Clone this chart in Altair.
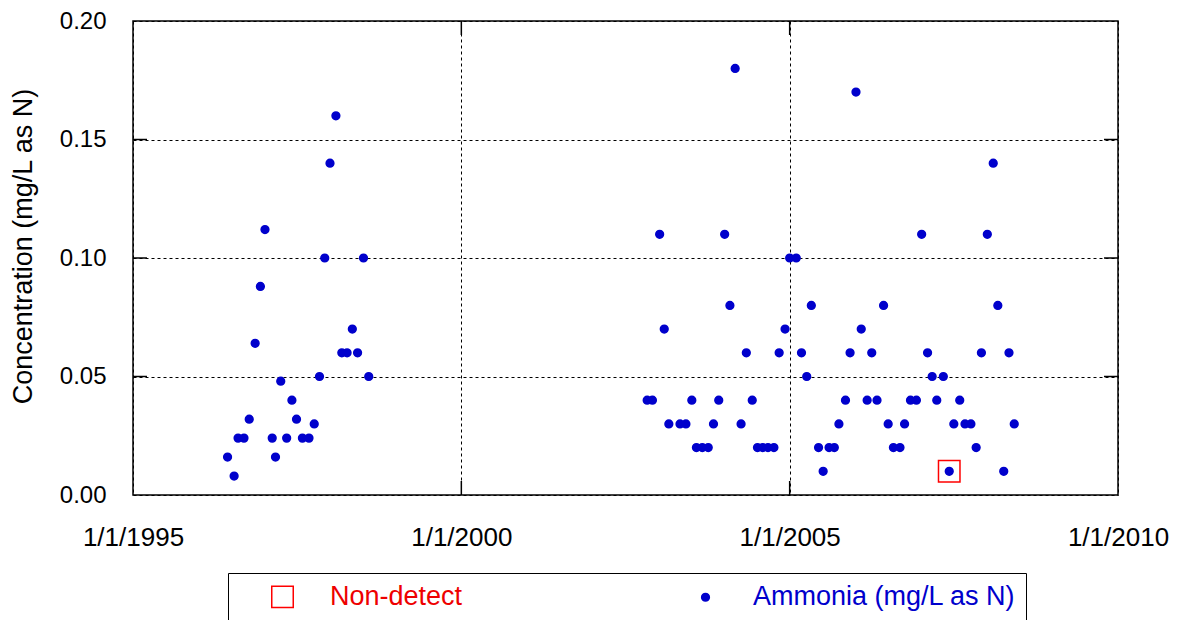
import altair as alt
import pandas as pd

# ---- data (decimal years, mg/L as N) ----
early_years = [1996.44, 1996.54, 1996.60, 1996.69, 1996.77, 1996.86, 1996.94, 1997.01,
               1997.12, 1997.17, 1997.25, 1997.34, 1997.42, 1997.49, 1997.58, 1997.68,
               1997.76, 1997.84, 1997.92, 1998.00, 1998.09, 1998.18, 1998.26, 1998.34,
               1998.42, 1998.51, 1998.59]
early_values = [0.016, 0.008, 0.024, 0.024, 0.032, 0.064, 0.088, 0.112,
                0.024, 0.016, 0.048, 0.024, 0.040, 0.032, 0.024, 0.024,
                0.030, 0.050, 0.100, 0.140, 0.160, 0.060, 0.060, 0.070,
                0.060, 0.100, 0.050]

late_years = [2002.83, 2002.91, 2003.02, 2003.09, 2003.16, 2003.33, 2003.42, 2003.51,
              2003.58, 2003.67, 2003.76, 2003.84, 2003.92, 2004.01, 2004.09, 2004.17,
              2004.26, 2004.34, 2004.43, 2004.51, 2004.59, 2004.67, 2004.76, 2004.84,
              2004.93, 2005.00, 2005.10, 2005.18, 2005.26, 2005.33, 2005.44, 2005.51,
              2005.60, 2005.68, 2005.75, 2005.85, 2005.92, 2006.01, 2006.09, 2006.18,
              2006.25, 2006.33, 2006.43, 2006.50, 2006.58, 2006.68, 2006.75, 2006.84,
              2006.93, 2007.01, 2007.10, 2007.17, 2007.24, 2007.34, 2007.43, 2007.50,
              2007.59, 2007.67, 2007.76, 2007.84, 2007.92, 2008.01, 2008.10, 2008.17,
              2008.26, 2008.34, 2008.42]
late_values = [0.04, 0.04, 0.11, 0.07, 0.03, 0.03, 0.03, 0.04,
               0.02, 0.02, 0.02, 0.03, 0.04, 0.11, 0.08, 0.18,
               0.03, 0.06, 0.04, 0.02, 0.02, 0.02, 0.02, 0.06,
               0.07, 0.10, 0.10, 0.06, 0.05, 0.08, 0.02, 0.01,
               0.02, 0.02, 0.03, 0.04, 0.06, 0.17, 0.07, 0.04,
               0.06, 0.04, 0.08, 0.03, 0.02, 0.02, 0.03, 0.04,
               0.04, 0.11, 0.06, 0.05, 0.04, 0.05, 0.01, 0.03,
               0.04, 0.03, 0.03, 0.02, 0.06, 0.11, 0.14, 0.08,
               0.01, 0.06, 0.03]

nd_years = [2007.43]
nd_values = [0.01]

x_ticks = [1995, 2000, 2005, 2010]
y_ticks = [0.0, 0.05, 0.10, 0.15, 0.20]
inner_y_ticks = [0.05, 0.10, 0.15]
inner_x_ticks = [2000, 2005]

AMM = "Ammonia (mg/L as N)"
ND = "Non-detect"
series_names = [ND, AMM]

FONT = "Liberation Sans"
BLUE = "#0000CC"
RED = "#EE0000"

df = pd.DataFrame({
    "year": early_years + late_years + nd_years,
    "conc": early_values + late_values + nd_values,
    "series": [AMM] * (len(early_years) + len(late_years)) + [ND] * len(nd_years),
})

# inward tick marks (decoration of the frame)
TX = 0.213   # ~14 px in years
TY = 0.0059  # ~14 px in mg/L
rows = []
for v in inner_y_ticks:
    rows.append({"year": x_ticks[0], "year2": x_ticks[0] + TX, "conc": v, "conc2": v})
    rows.append({"year": x_ticks[-1] - TX, "year2": x_ticks[-1], "conc": v, "conc2": v})
for v in inner_x_ticks:
    rows.append({"year": v, "year2": v, "conc": y_ticks[0], "conc2": y_ticks[0] + TY})
    rows.append({"year": v, "year2": v, "conc": y_ticks[-1] - TY, "conc2": y_ticks[-1]})
ticks_df = pd.DataFrame(rows)

xscale = alt.Scale(domain=[x_ticks[0], x_ticks[-1]], nice=False, zero=False)
yscale = alt.Scale(domain=[y_ticks[0], y_ticks[-1]], nice=False, zero=True)

xaxis = alt.Axis(values=x_ticks, labelExpr="'1/1/' + datum.value", title=None,
                 grid=True, ticks=False, tickSize=0, domain=False, labelFlush=False,
                 labelPadding=29, labelFontSize=26, labelFont=FONT, labelColor="black")
yaxis = alt.Axis(values=y_ticks, format=".2f", title="Concentration (mg/L as N)",
                 grid=True, ticks=False, tickSize=0, domain=False,
                 labelPadding=27, labelFontSize=24, labelFont=FONT, labelColor="black",
                 titleFontSize=27, titleFont=FONT, titleFontWeight="normal",
                 titleColor="black", titleX=-96, titleY=225, titleAngle=270,
                 titleAlign="center", titleBaseline="bottom")

tick_layer = alt.Chart(ticks_df).mark_rule(color="black", strokeWidth=1.5).encode(
    x=alt.X("year:Q", scale=xscale, axis=xaxis),
    x2="year2:Q",
    y=alt.Y("conc:Q", scale=yscale, axis=yaxis),
    y2="conc2:Q",
)

legend = alt.Legend(
    title=None, orient="none", legendX=95, legendY=552, direction="horizontal",
    padding=10, symbolOffset=31, labelOffset=34, columnPadding=198,
    labelFont=FONT, labelFontSize=27, labelLimit=500,
    labelColor={"expr": "datum.value === 'Non-detect' ? '%s' : '%s'" % (RED, BLUE)},
    strokeColor="black", fillColor="white", symbolStrokeWidth=1.5,
)

points = alt.Chart(df).mark_point(opacity=1, strokeWidth=1.5).encode(
    x=alt.X("year:Q", scale=xscale, axis=xaxis),
    y=alt.Y("conc:Q", scale=yscale, axis=yaxis),
    stroke=alt.Stroke("series:N", scale=alt.Scale(domain=series_names, range=["#FF0000", BLUE]), legend=legend),
    fill=alt.Fill("series:N", scale=alt.Scale(domain=series_names, range=["transparent", BLUE]), legend=legend),
    shape=alt.Shape("series:N", scale=alt.Scale(domain=series_names, range=["square", "circle"]), legend=legend),
    size=alt.Size("series:N", scale=alt.Scale(type="ordinal", domain=series_names, range=[462, 60]), legend=legend),
)

chart = alt.layer(tick_layer, points).properties(
    width=985, height=474,
    autosize=alt.AutoSizeParams(type="none"),
    padding={"left": 125, "top": 13, "right": 52, "bottom": 125},
).configure_view(
    stroke="black", strokeWidth=1.5
).configure_axis(
    gridColor="black", gridDash=[3, 3], gridWidth=1, gridOpacity=1
)

chart.save("out.html", embed_options={"renderer": "svg", "actions": False})
